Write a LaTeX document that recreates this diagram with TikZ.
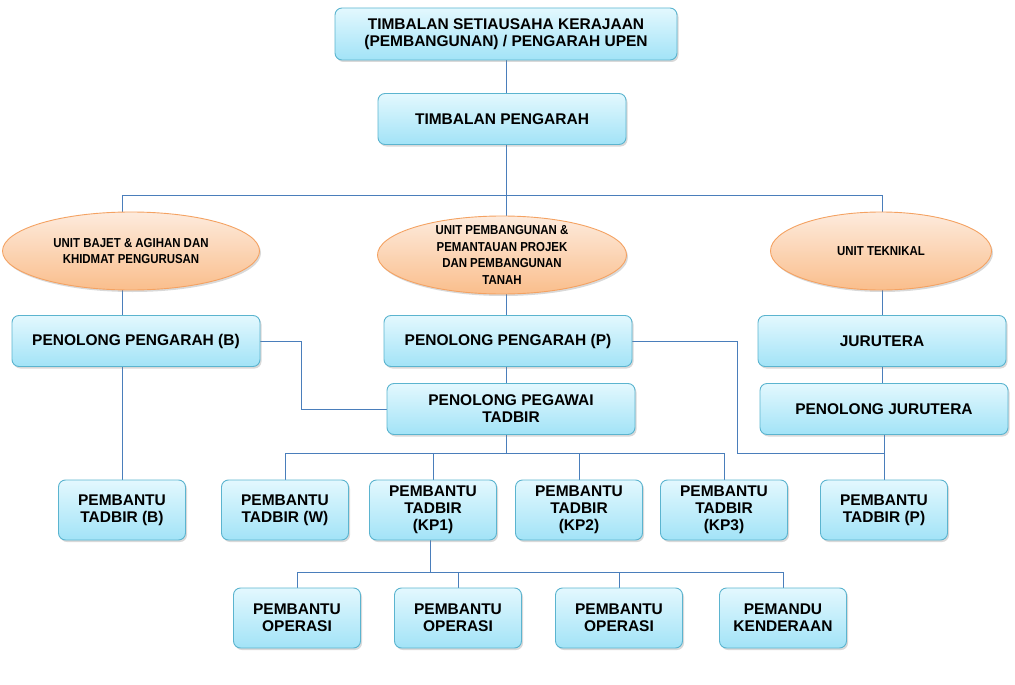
\documentclass[tikz,border=0pt]{standalone}
\usepackage{fontspec}
\setmainfont{Liberation Sans}
\newfontfamily\narrowfont{Liberation Sans}[FakeStretch=0.88]
\usetikzlibrary{shapes.geometric,shadows,backgrounds}
\definecolor{boxln}{HTML}{5BB4CF}
\definecolor{boxtop}{HTML}{E3F8FE}
\definecolor{boxbot}{HTML}{A2E3F7}
\definecolor{unitln}{HTML}{F4A262}
\definecolor{unittop}{HTML}{FDEBDD}
\definecolor{unitbot}{HTML}{FABE8C}
\definecolor{link}{HTML}{4A7EBB}
\tikzset{
  box/.style={draw=boxln,line width=0.9pt,rounded corners=7pt,top color=boxtop,bottom color=boxbot,
              align=center,font=\fontsize{15.5}{17}\selectfont\bfseries,inner sep=2pt,
              drop shadow={shadow xshift=1.5pt,shadow yshift=-2pt,opacity=0.3}},
  wide/.style={box,minimum width=248pt,minimum height=51pt},
  small/.style={box,minimum width=127pt,minimum height=60pt},
  unit/.style={ellipse,draw=unitln,line width=0.9pt,top color=unittop,bottom color=unitbot,
               inner sep=0pt,minimum height=78pt,
               drop shadow={shadow xshift=1.5pt,shadow yshift=-2pt,opacity=0.3}},
  unittxt/.style={align=center,font=\narrowfont\fontsize{13}{16.7}\selectfont\bfseries,inner sep=0pt},
  ln/.style={draw=link,line width=0.9pt},
}

\begin{document}
\begin{tikzpicture}[x=1pt,y=-1pt]
\useasboundingbox (0,0) rectangle (1015,685);
\node[box,minimum width=342pt,minimum height=52pt] (tse) at (506,34) {TIMBALAN SETIAUSAHA KERAJAAN\\(PEMBANGUNAN) / PENGARAH UPEN};
\node[wide] (tp) at (502,119) {TIMBALAN PENGARAH};
\node[unit,minimum width=257pt,label={[unittxt]center:UNIT BAJET \& AGIHAN DAN\\KHIDMAT PENGURUSAN}] (ub) at (131,251) {};
\node[unit,minimum width=249pt,label={[unittxt]center:UNIT PEMBANGUNAN \&\\PEMANTAUAN PROJEK\\DAN PEMBANGUNAN\\TANAH}] (up) at (502,255) {};
\node[unit,minimum width=221pt,label={[unittxt]center:UNIT TEKNIKAL}] (ut) at (881,251) {};
\node[wide] (ppb) at (136,341) {PENOLONG PENGARAH (B)};
\node[wide] (ppp) at (508,341) {PENOLONG PENGARAH (P)};
\node[wide] (ppt) at (511,409) {PENOLONG PEGAWAI\\TADBIR};
\node[wide] (jur) at (882,341) {JURUTERA};
\node[wide] (pj) at (884,409) {PENOLONG JURUTERA};
\node[small] (ptb) at (122,510) {PEMBANTU\\TADBIR (B)};
\node[small] (ptw) at (285,510) {PEMBANTU\\TADBIR (W)};
\node[small] (kp1) at (433,510) {PEMBANTU\\TADBIR\\(KP1)};
\node[small] (kp2) at (579,510) {PEMBANTU\\TADBIR\\(KP2)};
\node[small] (kp3) at (724,510) {PEMBANTU\\TADBIR\\(KP3)};
\node[small] (ptp) at (884,510) {PEMBANTU\\TADBIR (P)};
\node[small] (po1) at (297,618) {PEMBANTU\\OPERASI};
\node[small] (po2) at (458,618) {PEMBANTU\\OPERASI};
\node[small] (po3) at (619,618) {PEMBANTU\\OPERASI};
\node[small] (pk) at (783,618) {PEMANDU\\KENDERAAN};
\coordinate (b0) at (506,195);
\coordinate (b1) at (506,453);
\coordinate (b2) at (430,572);
\coordinate (j1) at (301,409);
\coordinate (j2) at (737,453);
\begin{scope}[on background layer]
\draw[ln] (tse) -- (b0);
\draw[ln] (ptb |- b0) -- (jur |- b0);
\draw[ln] (ptb |- b0) -- (ptb);
\draw[ln] (b0) -- (b1);
\draw[ln] (jur |- b0) -- (jur);
\draw[ln] (jur) -- (jur |- pj);
\draw[ln] (pj) -- (ptp);
\draw[ln] (ppb.east) -| (j1) -- (ppt.west);
\draw[ln] (ppp.east) -| (j2) -- (ptp |- j2);
\draw[ln] (ptw |- b1) -- (kp3 |- b1);
\foreach \n in {ptw,kp1,kp2,kp3}
  \draw[ln] (\n |- b1) -- (\n);
\draw[ln] (b2 |- kp1) -- (b2);
\draw[ln] (po1 |- b2) -- (pk |- b2);
\foreach \n in {po1,po2,po3,pk}
  \draw[ln] (\n |- b2) -- (\n);
\end{scope}
\end{tikzpicture}
\end{document}
